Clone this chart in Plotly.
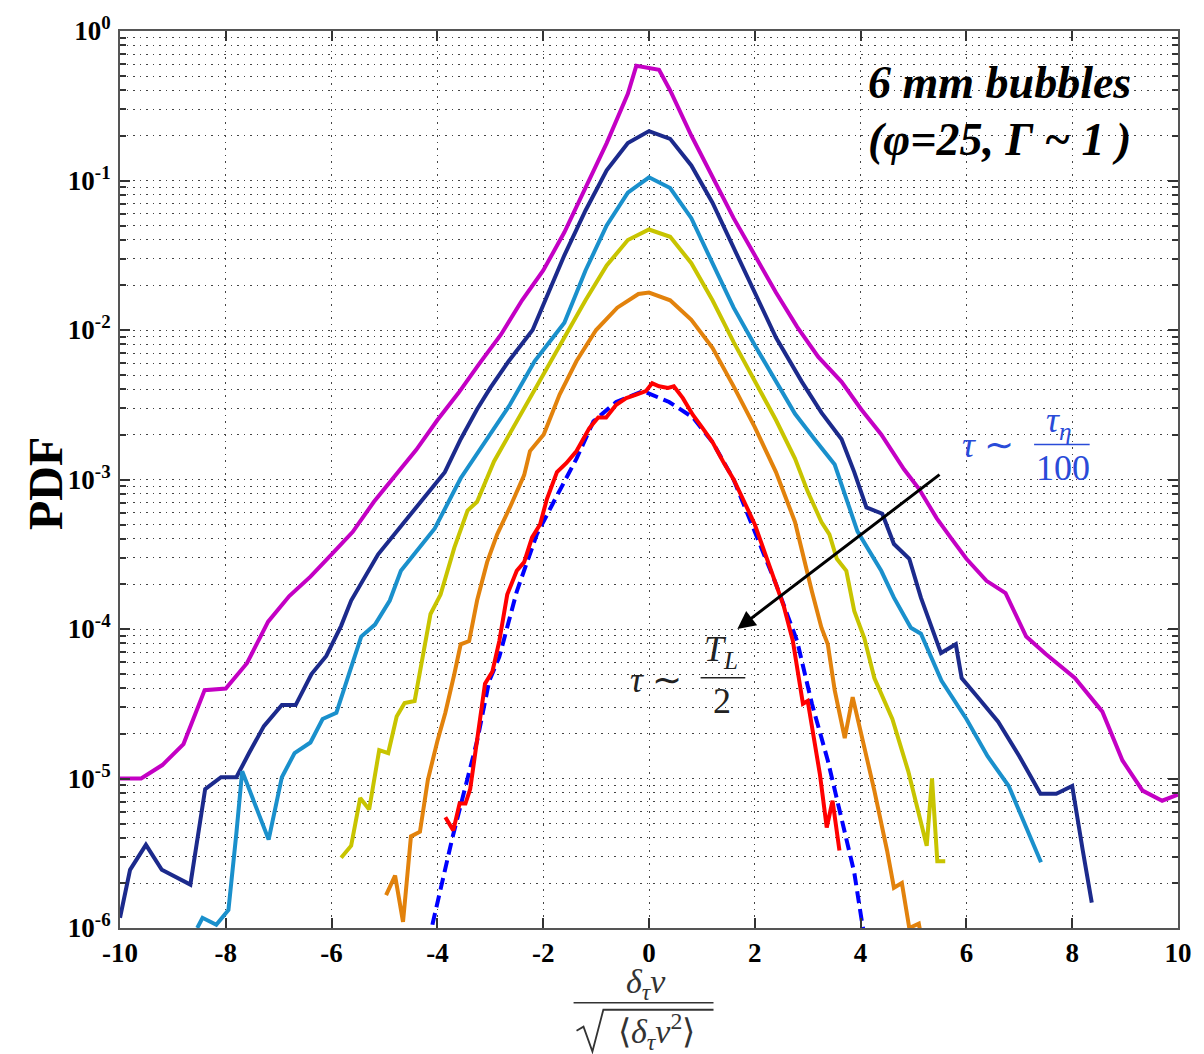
import plotly.graph_objects as go

# ---- velocity-increment PDFs, 6 mm bubbles, from smallest to largest time lag ----
x_m = [-10, -9.6, -9.2, -8.8, -8.4, -8.0, -7.6, -7.2, -6.8, -6.4, -6.0, -5.6, -5.2, -4.8,
       -4.4, -4.0, -3.6, -3.2, -2.8, -2.4, -2.0, -1.6, -1.2, -0.8, -0.4, -0.24, 0.19, 0.4,
       0.8, 1.2, 1.6, 2.0, 2.4, 2.8, 3.2, 3.64, 4.01, 4.39, 4.82, 5.1, 5.44, 5.7, 6.0,
       6.38, 6.74, 7.13, 7.5, 8.05, 8.57, 8.95, 9.33, 9.7, 10.0]
pdf_m = [1.0e-5, 1.0e-5, 1.23e-5, 1.7e-5, 3.9e-5, 4.0e-5, 5.9e-5, 1.12e-4, 1.66e-4, 2.24e-4,
         3.16e-4, 4.47e-4, 7.1e-4, 1.05e-3, 1.58e-3, 2.5e-3, 3.8e-3, 6.0e-3, 9.3e-3, 1.58e-2,
         2.5e-2, 4.5e-2, 8.9e-2, 0.178, 0.38, 0.585, 0.55, 0.40, 0.20, 0.105, 5.6e-2, 3.16e-2,
         1.78e-2, 1.05e-2, 6.6e-3, 4.5e-3, 2.95e-3, 2.0e-3, 1.17e-3, 8.7e-4, 5.5e-4, 4.1e-4,
         2.95e-4, 2.1e-4, 1.74e-4, 8.9e-5, 6.8e-5, 4.7e-5, 2.8e-5, 1.32e-5, 8.3e-6, 7.1e-6,
         7.8e-6]

x_n = [-10, -9.81, -9.51, -9.21, -8.67, -8.39, -8.09, -7.8, -7.56, -7.28, -6.94, -6.68,
       -6.38, -6.1, -5.82, -5.63, -5.12, -4.56, -3.86, -3.56, -3.25, -3.0, -2.65, -2.2, -1.6,
       -1.2, -0.8, -0.4, 0.0, 0.4, 0.8, 1.2, 1.6, 2.0, 2.4, 2.89, 3.26, 3.64, 3.88, 4.11,
       4.41, 4.63, 4.92, 5.14, 5.52, 5.8, 5.91, 6.2, 6.6, 7.0, 7.4, 7.7, 8.0, 8.2, 8.37]
pdf_n = [1.17e-6, 2.45e-6, 3.6e-6, 2.45e-6, 1.95e-6, 8.5e-6, 1.02e-5, 1.02e-5, 1.48e-5,
         2.24e-5, 3.1e-5, 3.1e-5, 5.0e-5, 6.6e-5, 1.05e-4, 1.55e-4, 3.16e-4, 5.5e-4, 1.12e-3,
         1.86e-3, 2.95e-3, 4.1e-3, 6.2e-3, 1.0e-2, 3.16e-2, 6.3e-2, 0.117, 0.178, 0.214, 0.19,
         0.126, 7.1e-2, 3.55e-2, 1.78e-2, 8.9e-3, 4.5e-3, 2.8e-3, 1.86e-3, 1.12e-3, 6.5e-4,
         5.9e-4, 3.7e-4, 2.95e-4, 1.62e-4, 6.9e-5, 7.9e-5, 4.7e-5, 3.55e-5, 2.4e-5, 1.41e-5,
         7.9e-6, 7.9e-6, 8.9e-6, 3.3e-6, 1.48e-6]

x_c = [-8.54, -8.44, -8.18, -7.95, -7.8, -7.69, -7.19, -6.94, -6.7, -6.4, -6.17, -5.91,
       -5.68, -5.44, -5.18, -4.9, -4.69, -4.05, -3.56, -3.06, -2.63, -2.16, -1.6, -1.2, -0.8,
       -0.4, 0.0, 0.4, 0.8, 1.2, 1.6, 2.0, 2.4, 2.76, 3.13, 3.51, 3.94, 4.39, 4.63, 4.95,
       5.14, 5.53, 6.0, 6.4, 6.8, 7.1, 7.41]
pdf_c = [1.0e-6, 1.17e-6, 1.05e-6, 1.32e-6, 4.3e-6, 1.12e-5, 3.9e-6, 1.02e-5, 1.48e-5,
         1.74e-5, 2.5e-5, 2.75e-5, 4.9e-5, 8.9e-5, 1.07e-4, 1.55e-4, 2.45e-4, 4.7e-4, 1.02e-3,
         1.86e-3, 3.16e-3, 6.2e-3, 1.12e-2, 2.5e-2, 5.0e-2, 8.3e-2, 0.105, 8.9e-2, 5.6e-2,
         2.8e-2, 1.41e-2, 7.9e-3, 4.5e-3, 2.75e-3, 1.86e-3, 1.26e-3, 4.5e-4, 2.45e-4, 1.62e-4,
         1.02e-4, 9.3e-5, 4.5e-5, 2.5e-5, 1.41e-5, 8.9e-6, 5.0e-6, 2.75e-6]

x_y = [-5.82, -5.63, -5.46, -5.29, -5.1, -4.93, -4.77, -4.62, -4.43, -4.22, -4.13, -3.94,
       -3.68, -3.43, -3.25, -2.93, -2.5, -2.06, -1.6, -1.2, -0.8, -0.4, 0.0, 0.4, 0.8, 1.2,
       1.6, 2.0, 2.4, 2.76, 3.0, 3.26, 3.41, 3.55, 3.73, 3.88, 4.07, 4.26, 4.6, 4.9, 5.1,
       5.25, 5.35, 5.45, 5.6]
pdf_y = [2.95e-6, 3.55e-6, 7.4e-6, 6.2e-6, 1.55e-5, 1.48e-5, 2.6e-5, 3.2e-5, 3.3e-5, 8.3e-5,
         1.26e-4, 1.7e-4, 3.5e-4, 6.2e-4, 7.1e-4, 1.32e-3, 2.45e-3, 4.7e-3, 8.9e-3, 1.58e-2,
         2.7e-2, 4.0e-2, 4.7e-2, 4.2e-2, 2.8e-2, 1.58e-2, 8.3e-3, 4.5e-3, 2.5e-3, 1.38e-3,
         8.3e-4, 5.2e-4, 4.3e-4, 2.95e-4, 2.45e-4, 1.32e-4, 8.7e-5, 4.7e-5, 2.5e-5, 1.12e-5,
         5.6e-6, 3.55e-6, 1.0e-5, 2.8e-6, 2.8e-6]

x_o = [-4.97, -4.8, -4.65, -4.5, -4.33, -4.18, -4.0, -3.85, -3.68, -3.56, -3.4, -3.25,
       -3.06, -2.87, -2.63, -2.36, -2.25, -1.99, -1.69, -1.37, -1.0, -0.6, -0.2, 0.0, 0.4,
       0.8, 1.2, 1.6, 2.0, 2.4, 2.76, 2.95, 3.08, 3.26, 3.38, 3.51, 3.7, 3.85, 4.07, 4.26,
       4.5, 4.63, 4.78, 4.92, 5.1, 5.14]
pdf_o = [1.66e-6, 2.24e-6, 1.1e-6, 4.1e-6, 4.4e-6, 9.8e-6, 1.78e-5, 2.75e-5, 5.0e-5, 7.9e-5,
         8.3e-5, 1.55e-4, 2.8e-4, 4.3e-4, 6.5e-4, 1.07e-3, 1.55e-3, 2.0e-3, 3.7e-3, 6.2e-3,
         1.0e-2, 1.41e-2, 1.74e-2, 1.78e-2, 1.58e-2, 1.17e-2, 7.6e-3, 4.2e-3, 2.24e-3,
         1.12e-3, 5.2e-4, 2.7e-4, 1.78e-4, 1.02e-4, 7.9e-5, 3.9e-5, 1.86e-5, 3.5e-5, 1.62e-5,
         8.3e-6, 3.3e-6, 1.86e-6, 2.0e-6, 1.0e-6, 1.07e-6, 0.9e-6]

x_r = [-3.85, -3.7, -3.58, -3.47, -3.38, -3.28, -3.19, -3.1, -2.96, -2.83, -2.68, -2.5,
       -2.36, -2.21, -2.06, -1.93, -1.74, -1.56, -1.37, -1.13, -0.96, -0.81, -0.62, -0.43,
       -0.24, -0.06, 0.06, 0.19, 0.36, 0.47, 0.64, 0.83, 1.0, 1.2, 1.4, 1.6, 1.8, 2.0, 2.2,
       2.38, 2.55, 2.72, 2.91, 3.0, 3.23, 3.36, 3.47, 3.6]
pdf_r = [5.5e-6, 4.5e-6, 6.8e-6, 6.8e-6, 8.5e-6, 1.55e-5, 2.8e-5, 4.3e-5, 5.2e-5, 8.3e-5,
         1.7e-4, 2.45e-4, 2.8e-4, 4.1e-4, 5.0e-4, 7.4e-4, 1.12e-3, 1.29e-3, 1.55e-3, 2.2e-3,
         2.6e-3, 2.6e-3, 3.16e-3, 3.5e-3, 3.7e-3, 3.9e-3, 4.4e-3, 4.2e-3, 4.1e-3, 4.2e-3,
         3.5e-3, 2.7e-3, 2.24e-3, 1.78e-3, 1.32e-3, 1.0e-3, 7.1e-4, 5.0e-4, 3.16e-4, 2.1e-4,
         1.41e-4, 8.3e-5, 3.16e-5, 3.3e-5, 1.07e-5, 4.7e-6, 7.1e-6, 3.3e-6]

# Gaussian reference (dashed)
x_g = [-4.15, -4.09, -3.71, -3.43, -3.25, -3.02, -2.83, -2.5, -2.12, -1.8, -1.37, -1.05,
       -0.62, -0.11, 0.38, 0.83, 1.2, 1.6, 2.0, 2.4, 2.8, 3.08, 3.38, 3.64, 3.88, 4.03, 4.1]
pdf_g = [8.0e-7, 1.07e-6, 4.1e-6, 9.8e-6, 1.78e-5, 4.5e-5, 6.5e-5, 1.78e-4, 4.3e-4, 7.1e-4,
         1.38e-3, 2.45e-3, 3.3e-3, 3.9e-3, 3.3e-3, 2.6e-3, 1.78e-3, 1.0e-3, 4.5e-4, 2.0e-4,
         8.3e-5, 3.16e-5, 1.32e-5, 5.5e-6, 2.35e-6, 1.07e-6, 8.0e-7]

x_ticks = [-10, -8, -6, -4, -2, 0, 2, 4, 6, 8, 10]
y_ticks = [1e-6, 1e-5, 1e-4, 1e-3, 1e-2, 1e-1, 1e0]
y_ticktext = ["10<sup>-6</sup>", "10<sup>-5</sup>", "10<sup>-4</sup>", "10<sup>-3</sup>",
              "10<sup>-2</sup>", "10<sup>-1</sup>", "10<sup>0</sup>"]
y_minor = [k * 10.0 ** e for e in range(-6, 0) for k in range(2, 10)]

W, H = 1204, 1054
L, R, T, B = 120, 18, 28, 126
PW, PH = W - L - R, H - T - B


def px(xp):
    return (xp - L) / PW


def py(yp):
    return (H - B - yp) / PH


fig = go.Figure()
series = [
    (x_m, pdf_m, "#c400c4"),
    (x_n, pdf_n, "#1c2a8c"),
    (x_c, pdf_c, "#1a90cc"),
    (x_y, pdf_y, "#c8c400"),
    (x_o, pdf_o, "#e2820c"),
]
for xs, ys, col in series:
    fig.add_trace(go.Scatter(x=xs, y=ys, mode="lines",
                             line=dict(color=col, width=4), showlegend=False))
fig.add_trace(go.Scatter(x=x_g, y=pdf_g, mode="lines",
                         line=dict(color="#0000ff", width=4, dash="12px,6px"),
                         showlegend=False))
fig.add_trace(go.Scatter(x=x_r, y=pdf_r, mode="lines",
                         line=dict(color="#ff0000", width=4), showlegend=False))

serif = "Liberation Serif"
tickfont = dict(family=serif, size=27, color="black", weight="bold")
grid = dict(gridcolor="#444444", griddash="1.5px,5px", gridwidth=1)

fig.update_xaxes(range=[-10, 10], tickvals=x_ticks, ticktext=[str(v) for v in x_ticks],
                 ticks="inside", ticklen=10, tickwidth=1.5, tickcolor="#333",
                 showline=True, linecolor="#555", linewidth=2, mirror="allticks",
                 showgrid=True, tickfont=tickfont, zeroline=False, **grid)
fig.update_yaxes(type="log", range=[-6, 0], tickvals=y_ticks, ticktext=y_ticktext,
                 ticks="inside", ticklen=10, tickwidth=1.5, tickcolor="#333",
                 showline=True, linecolor="#555", linewidth=2, mirror="allticks",
                 showgrid=True, tickfont=tickfont, zeroline=False, ticklabelstandoff=2,
                 minor=dict(tickmode="array", tickvals=y_minor, ticks="inside", ticklen=6,
                            tickcolor="#333", showgrid=True, **grid),
                 **grid)


def label(xp, yp, text, font, **kw):
    return dict(x=px(xp), y=py(yp), xref="paper", yref="paper", text=text,
                xanchor="center", yanchor="middle", showarrow=False, font=font, **kw)


ann = []
shapes = []

# y-axis label
ann.append(label(45, 482, "<b>PDF</b>", dict(family=serif, size=48, color="black"),
                 textangle=-90))

# in-plot caption
capfont = dict(family=serif, size=46, color="black")
ann.append(label(1006, 80, "<b><i>6 mm bubbles</i></b>", capfont))
ann.append(label(1006, 137, "<b><i>(φ=25, Γ ~ 1 )</i></b>", capfont))

# τ ~ τη / 100
blue = "#2a4bd8"
mfont = dict(family=serif, size=36, color=blue)
ann.append(label(995, 443, "<i>τ</i> ∼", mfont))
ann.append(label(1066, 421, "<i>τ<sub>η</sub></i>", mfont))
ann.append(label(1070, 466, "100", mfont))
shapes.append(dict(type="line", xref="paper", yref="paper", x0=px(1041), x1=px(1097),
                   y0=py(443), y1=py(443), line=dict(color=blue, width=1.5)))

# τ ~ T_L / 2
kfont = dict(family=serif, size=36, color="#222")
ann.append(label(660, 679, "<i>τ</i> ∼", kfont))
ann.append(label(726, 651, "<i>T<sub>L</sub></i>", kfont))
ann.append(label(727, 700, "2", kfont))
shapes.append(dict(type="line", xref="paper", yref="paper", x0=px(705), x1=px(750),
                   y0=py(677), y1=py(677), line=dict(color="#222", width=1.5)))

# arrow across the curves
ann.append(dict(x=1.67, y=-4.0, ax=5.52, ay=-2.96, xref="x", yref="y", axref="x", ayref="y",
                text="", showarrow=True, arrowhead=2, arrowsize=1.2, arrowwidth=3,
                arrowcolor="black"))

# x-axis label: normalised increment
xfont = dict(family=serif, size=34, color="#333")
ann.append(label(650, 984, "<i>δ<sub>τ</sub>v</i>", xfont))
shapes.append(dict(type="line", xref="paper", yref="paper", x0=px(577), x1=px(718),
                   y0=py(1003), y1=py(1003), line=dict(color="#333", width=1.5)))
ann.append(label(661, 1032, "⟨<i>δ<sub>τ</sub>v</i><sup>2</sup>⟩", xfont))
shapes.append(dict(type="path", xref="paper", yref="paper",
                   path=(f"M {px(580)} {py(1031)} L {px(587)} {py(1027)} "
                         f"L {px(596)} {py(1052)} L {px(607)} {py(1010)} "
                         f"L {px(718)} {py(1010)}"),
                   line=dict(color="#333", width=1.8)))

fig.update_layout(width=W, height=H, margin=dict(l=L, r=R, t=T, b=B, pad=0),
                  paper_bgcolor="white", plot_bgcolor="white",
                  annotations=ann, shapes=shapes, showlegend=False)
fig.write_html("out.html")
